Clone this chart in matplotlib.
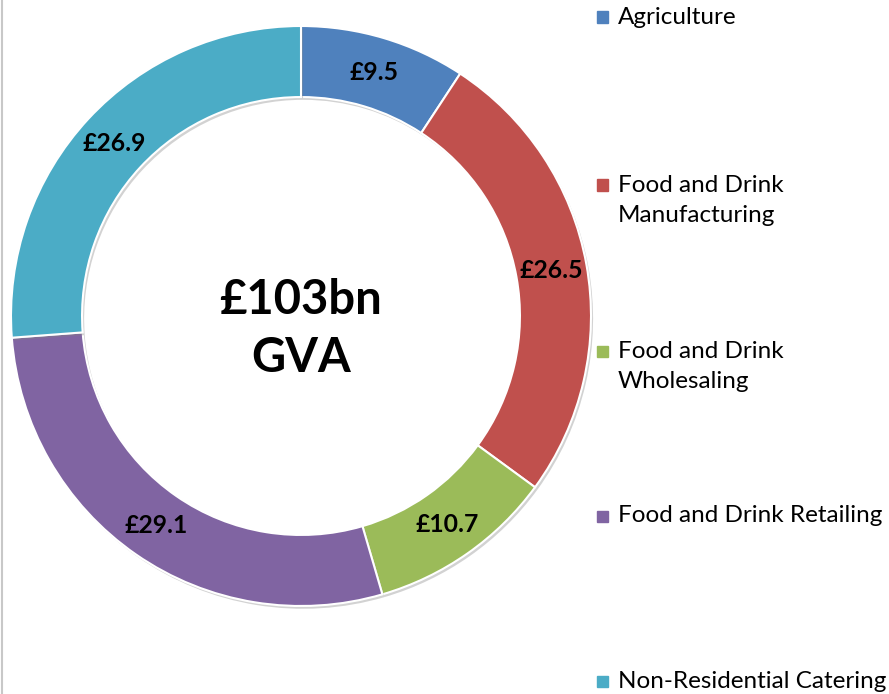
import matplotlib.pyplot as plt
import matplotlib.patheffects as pe
from matplotlib.patches import Rectangle
from matplotlib.lines import Line2D

# GVA by sector, £bn
sectors = ['Agriculture', 'Food and Drink\nManufacturing', 'Food and Drink\nWholesaling',
           'Food and Drink Retailing', 'Non-Residential Catering']
values = [9.5, 26.5, 10.7, 29.1, 26.9]
colors = ['#4F81BD', '#C0504D', '#9BBB59', '#8064A2', '#4BACC6']
total_label = '£103bn\nGVA'

plt.rcParams['font.family'] = ['Lato', 'DejaVu Sans']

fig = plt.figure(figsize=(8.89, 6.94), dpi=100)
W, H = 889, 694

# donut centre (301, 316) px, outer radius 290 px
cx, cy, r = 301, 316, 290
ax = fig.add_axes([(cx - r) / W, (H - cy - r) / H, 2 * r / W, 2 * r / H])

wedges, texts, autotexts = ax.pie(
    values, colors=colors, startangle=90, counterclock=False, radius=1,
    autopct=lambda p: '£%.1f' % (p * sum(values) / 100), pctdistance=0.877,
    wedgeprops=dict(width=0.245, edgecolor='white', linewidth=1.5),
    textprops=dict(fontsize=17.8, fontweight='bold', color='black'))
for w in wedges:
    w.set_path_effects([pe.SimplePatchShadow(offset=(1.5, -2), shadow_rgbFace='#808080',
                                             alpha=0.35), pe.Normal()])
ax.set_xlim(-1, 1)
ax.set_ylim(-1, 1)
ax.set_aspect('equal')

ax.text(0, -0.045, total_label, ha='center', va='center', fontsize=33.9,
        fontweight='bold', linespacing=1.4)

# legend down the right-hand side
leg_y = [17, 185, 351, 516, 681]
for name, col, y in zip(sectors, colors, leg_y):
    fig.add_artist(Rectangle((597 / W, (H - y - 5.5) / H), 11 / W, 11 / H,
                             transform=fig.transFigure, color=col))
    fig.text(618 / W, (H - y) / H, name.split('\n')[0], ha='left', va='center',
             fontsize=17.5)
    if '\n' in name:
        fig.text(618 / W, (H - y - 30) / H, name.split('\n')[1], ha='left',
                 va='center', fontsize=17.5)

# thin grey frame line on the left
fig.add_artist(Line2D([2 / W, 2 / W], [0, 1], transform=fig.transFigure,
                      color='#c8c8c8', linewidth=1.5))

fig.savefig('out.png', dpi=100)
